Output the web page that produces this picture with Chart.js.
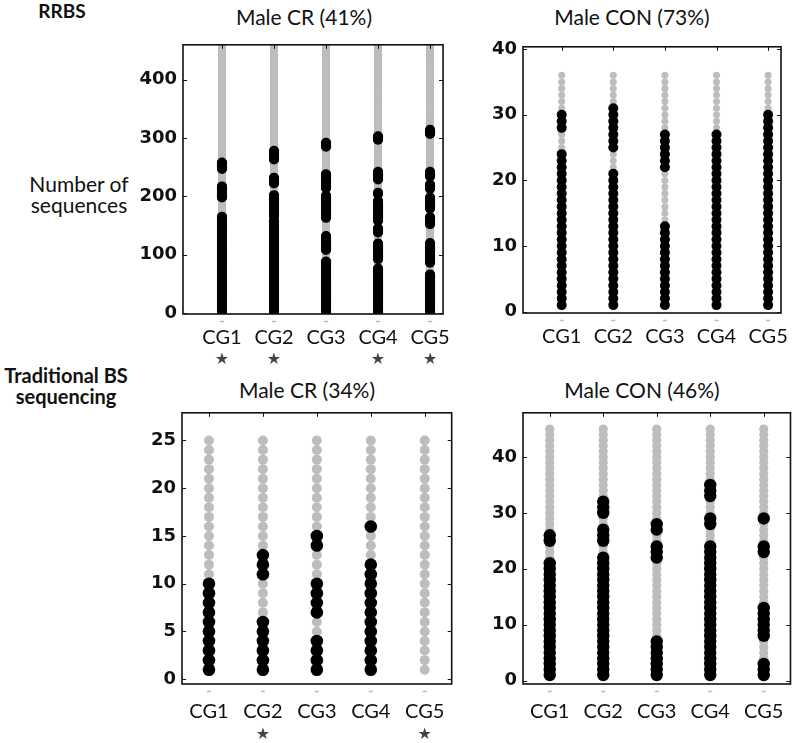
<!DOCTYPE html>
<html>
<head>
<meta charset="utf-8">
<script src="https://cdn.jsdelivr.net/npm/chart.js@4.4.1/dist/chart.umd.min.js"></script>
<style>
  body { margin: 0; background: #fff; width: 800px; height: 743px; position: relative; overflow: hidden; font-family: Lato, sans-serif; color: #111; }
  canvas { position: absolute; }
  .txt { position: absolute; white-space: nowrap; transform: translate(-50%, -50%); text-align: center; font-size: 21px; line-height: 21px; }
  .bold { font-weight: bold; }
</style>
</head>
<body>
<div class="txt bold" style="left:62px;top:10px;font-size:19px;">RRBS</div>
<div class="txt" style="left:79px;top:194px;">Number of<br>sequences</div>
<div class="txt bold" style="left:66px;top:386px;font-size:20px;">Traditional BS<br>sequencing</div>

<div class="txt" style="left:304px;top:16px;">Male CR (41%)</div>
<div class="txt" style="left:632px;top:16px;">Male CON (73%)</div>
<div class="txt" style="left:307px;top:389px;">Male CR (34%)</div>
<div class="txt" style="left:642px;top:389px;">Male CON (46%)</div>

<canvas id="rrbsCr" width="329" height="350" style="left:133px;top:28px;"></canvas>
<canvas id="rrbsCon" width="327" height="350" style="left:473px;top:30px;"></canvas>
<canvas id="bsCr" width="329" height="347" style="left:132px;top:396px;"></canvas>
<canvas id="bsCon" width="327" height="347" style="left:473px;top:396px;"></canvas>

<script>
const cgLabels = ["CG1", "CG2", "CG3", "CG4", "CG5"];

// RRBS, male CR: 460 reads per site, methylated read ranges per CG
const rrbsCrTotal = 460;
const rrbsCrMethylated = [
  [[1, 165], [198, 217], [247, 258]],
  [[1, 158], [166, 202], [222, 232], [263, 278]],
  [[1, 88], [108, 132], [163, 201], [214, 238], [285, 292]],
  [[1, 76], [92, 119], [138, 145], [158, 192], [204, 206], [229, 242], [297, 303]],
  [[1, 66], [86, 120], [152, 164], [179, 198], [213, 220], [234, 242], [307, 314]],
];
const rrbsCrTicks = [0, 100, 200, 300, 400];
const rrbsCrStars = ["CG1", "CG2", "CG4", "CG5"];

// RRBS, male CON
const rrbsConTotal = 36;
const rrbsConMethylated = [
  [[1, 24], [28, 30]],
  [[1, 21], [25, 31]],
  [[1, 13], [22, 27]],
  [[1, 27]],
  [[1, 30]],
];
const rrbsConTicks = [0, 10, 20, 30, 40];
const rrbsConStars = [];

// traditional BS sequencing, male CR
const bsCrTotal = 25;
const bsCrMethylated = [
  [[1, 10]],
  [[1, 6], [11, 13]],
  [[1, 4], [7, 10], [14, 15]],
  [[1, 12], [16, 16]],
  [],
];
const bsCrTicks = [0, 5, 10, 15, 20, 25];
const bsCrStars = ["CG2", "CG5"];

// traditional BS sequencing, male CON
const bsConTotal = 45;
const bsConMethylated = [
  [[1, 21], [25, 26]],
  [[1, 22], [25, 27], [30, 32]],
  [[1, 7], [22, 24], [27, 28]],
  [[1, 24], [28, 29], [33, 35]],
  [[1, 3], [8, 13], [23, 24], [29, 29]],
];
const bsConTicks = [0, 10, 20, 30, 40];
const bsConStars = [];

function buildPoints(total, methylated) {
  const black = [];
  const grey = [];
  methylated.forEach((ranges, i) => {
    for (let s = 1; s <= total; s++) {
      const on = ranges.some(([a, b]) => s >= a && s <= b);
      (on ? black : grey).push({ x: i + 1, y: s });
    }
  });
  return { black, grey };
}

const framePlugin = {
  id: "frame",
  afterDatasetsDraw(chart, args, opts) {
    const { ctx, chartArea: a, scales } = chart;
    ctx.save();
    ctx.strokeStyle = "#111";
    ctx.lineWidth = 1;
    ctx.beginPath();
    scales.y.ticks.forEach((t) => {
      const y = Math.round(scales.y.getPixelForValue(t.value)) + 0.5;
      ctx.moveTo(a.left, y);
      ctx.lineTo(a.left + 4, y);
      ctx.moveTo(a.right, y);
      ctx.lineTo(a.right - 4, y);
    });
    scales.x.ticks.forEach((t) => {
      const x = Math.round(scales.x.getPixelForValue(t.value)) + 0.5;
      ctx.moveTo(x, a.top);
      ctx.lineTo(x, a.top + 4);
    });
    ctx.stroke();
    ctx.lineWidth = 1.6;
    ctx.strokeRect(a.left, a.top, a.right - a.left, a.bottom - a.top);

    // faint tick marks just below the axis
    ctx.strokeStyle = "#bbb";
    ctx.beginPath();
    scales.x.ticks.forEach((t) => {
      const x = scales.x.getPixelForValue(t.value);
      ctx.moveTo(x - 2, a.bottom + 7.5);
      ctx.lineTo(x + 2, a.bottom + 7.5);
    });
    ctx.stroke();

    ctx.fillStyle = "#444";
    ctx.font = "16px 'DejaVu Sans'";
    ctx.textAlign = "center";
    ctx.textBaseline = "middle";
    (opts.stars || []).forEach((lbl) => {
      const x = scales.x.getPixelForValue(cgLabels.indexOf(lbl) + 1);
      ctx.fillText("\u2605", x, a.bottom + opts.starOffset);
    });
    ctx.restore();
  },
};

function makePanel(id, total, methylated, ticks, stars, cfg) {
  const pts = buildPoints(total, methylated);
  return new Chart(document.getElementById(id), {
    type: "scatter",
    data: {
      // first dataset is painted last, so methylated dots sit on top
      datasets: [
        { label: "methylated", data: pts.black, pointRadius: cfg.blackR, pointBackgroundColor: "#000", pointBorderWidth: 0 },
        { label: "unmethylated", data: pts.grey, pointRadius: cfg.greyR, pointBackgroundColor: "#bdbdbd", pointBorderWidth: 0 },
      ],
    },
    options: {
      responsive: false,
      animation: false,
      devicePixelRatio: 1,
      events: [],
      layout: { padding: { top: cfg.padTop, right: cfg.padRight, bottom: 0, left: 0 } },
      plugins: {
        legend: { display: false },
        tooltip: { enabled: false },
        frame: { stars: stars, starOffset: cfg.starOffset },
      },
      scales: {
        x: {
          type: "linear",
          min: cfg.xMin,
          max: cfg.xMax,
          grid: { display: false, drawTicks: false },
          border: { display: false },
          afterBuildTicks: (scale) => { scale.ticks = cgLabels.map((l, i) => ({ value: i + 1 })); },
          afterFit: (scale) => { scale.height = cfg.xHeight; },
          ticks: {
            padding: cfg.labelPad,
            color: "#111",
            font: { family: "Lato", size: 20 },
            callback: (v) => cgLabels[v - 1],
          },
        },
        y: {
          min: cfg.yMin,
          max: cfg.yMax,
          grid: { display: false, drawTicks: false },
          border: { display: false },
          afterBuildTicks: (scale) => { scale.ticks = ticks.map((v) => ({ value: v })); },
          afterFit: (scale) => { scale.width = 50; },
          ticks: {
            padding: 6,
            color: "#111",
            font: { family: "DejaVu Sans", size: 18, weight: "bold" },
          },
        },
      },
    },
    plugins: [framePlugin],
  });
}

makePanel("rrbsCr", rrbsCrTotal, rrbsCrMethylated, rrbsCrTicks, rrbsCrStars, {
  xMin: 0.25, xMax: 5.25, yMin: -2, yMax: 460, xHeight: 64, padTop: 6, padRight: 6,
  greyR: 3.8, blackR: 5, starOffset: 46, labelPad: 12,
});
makePanel("rrbsCon", rrbsConTotal, rrbsConMethylated, rrbsConTicks, rrbsConStars, {
  xMin: 0.25, xMax: 5.25, yMin: -0.2, yMax: 40.35, xHeight: 67, padTop: 7, padRight: 5,
  greyR: 3.5, blackR: 5, starOffset: 46, labelPad: 12,
});
makePanel("bsCr", bsCrTotal, bsCrMethylated, bsCrTicks, bsCrStars, {
  xMin: 0.5, xMax: 5.5, yMin: -0.5, yMax: 27.9, xHeight: 59, padTop: 6, padRight: 6,
  greyR: 5, blackR: 6.3, starOffset: 51, labelPad: 16,
});
makePanel("bsCon", bsConTotal, bsConMethylated, bsConTicks, bsConStars, {
  xMin: 0.5, xMax: 5.5, yMin: -0.6, yMax: 47.9, xHeight: 59, padTop: 6, padRight: 5,
  greyR: 4.6, blackR: 6.2, starOffset: 51, labelPad: 16,
});
</script>
</body>
</html>
